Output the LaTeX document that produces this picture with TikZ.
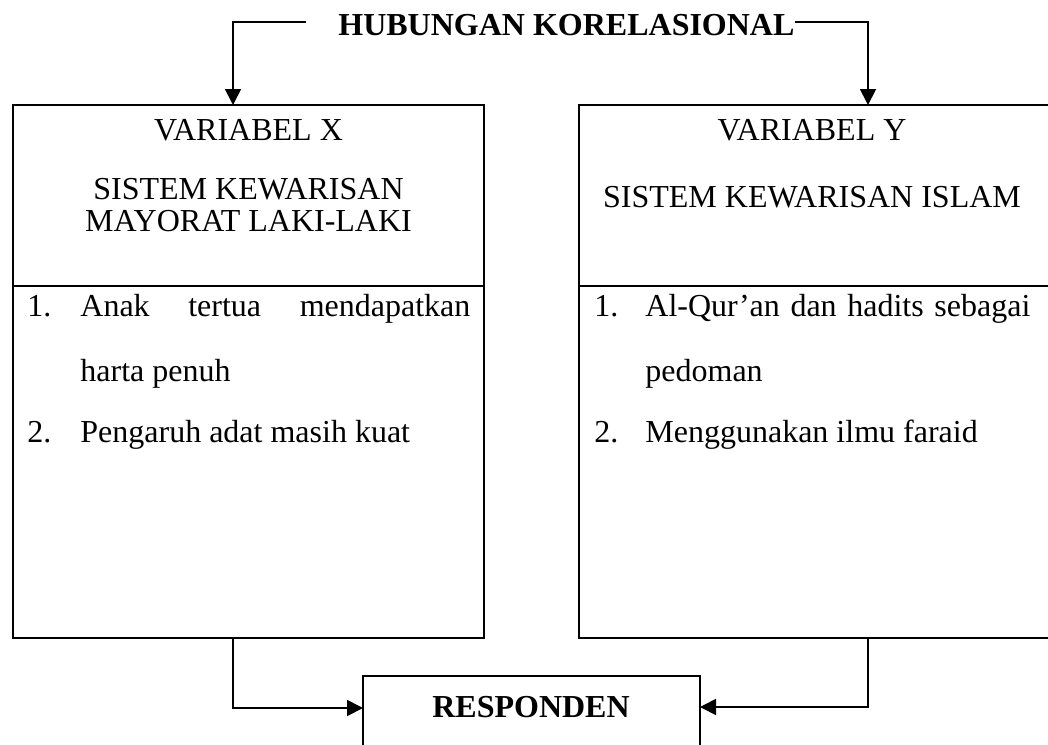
\documentclass[tikz,border=0pt]{standalone}
\usepackage{fontspec}
\setmainfont{Liberation Serif}
\usetikzlibrary{arrows.meta}
\begin{document}
\begin{tikzpicture}[x=0.5pt,y=-0.5pt,
  boxline/.style={draw,line width=1.2pt,inner sep=0pt,outer sep=0pt,anchor=north west},
  conn/.style={line width=0.9pt},
  arr/.style={conn,-{Triangle[length=8pt,width=8pt]}},
  txt/.style={inner sep=0pt,anchor=base,font=\fontsize{16}{16}\selectfont},
  txtl/.style={txt,anchor=base west},
  bold/.style={txt,font=\fontsize{16}{16}\selectfont\bfseries}]
\useasboundingbox (0,0) rectangle (1048,744);

% boxes
\node[boxline,minimum width=235.5pt,minimum height=266.5pt] (xbox) at (13,105) {};
\node[boxline,minimum width=237pt,minimum height=266.5pt] (ybox) at (579,105) {};
\node[boxline,minimum width=168.5pt,minimum height=52pt,line width=0.9pt] (resp) at (363,676) {};
\draw[line width=1.2pt] (xbox.west |- 0,286) -- (xbox.east |- 0,286);
\draw[line width=1.2pt] (ybox.west |- 0,286) -- (ybox.east |- 0,286);

% title
\node[bold,anchor=base west] (hub) at (338,35) {HUBUNGAN KORELASIONAL};
\coordinate (hl) at (306,22);
\coordinate (hr) at (795,22);
\draw[arr] (hl) -| (xbox.north -| 233,0);
\draw[arr] (hr) -| (ybox.north -| 868,0);

% left box texts
\node[txt] (vx) at (248.5,140) {VARIABEL X};
\node[txt] (sx1) at (248.5,199) {SISTEM KEWARISAN};
\node[txt] (sx2) at (248.5,231) {MAYORAT LAKI-LAKI};
\node[txtl] (nx1) at (27,316) {1.};
\node[txtl] (ix1) at (80,316) {\makebox[195pt][s]{Anak tertua mendapatkan}};
\node[txtl] (ix1b) at (80,381) {harta penuh};
\node[txtl] (nx2) at (27,442) {2.};
\node[txtl] (ix2) at (80,442) {Pengaruh adat masih kuat};

% right box texts
\node[txt] (vy) at (812,140) {VARIABEL Y};
\node[txt] (sy) at (812,207) {SISTEM KEWARISAN ISLAM};
\node[txtl] (ny1) at (594,316) {1.};
\node[txtl] (iy1) at (645,316) {\makebox[192.5pt][s]{Al-Qur’an dan hadits sebagai}};
\node[txtl] (iy1b) at (645,381) {pedoman};
\node[txtl] (ny2) at (594,442) {2.};
\node[txtl] (iy2) at (645,442) {Menggunakan ilmu faraid};

% responden
\node[bold] (rt) at (531,717) {RESPONDEN};
\draw[arr] (xbox.south -| 233,0) |- (resp.west |- 0,708);
\draw[arr] (ybox.south -| 868,0) |- (resp.east |- 0,707);
\end{tikzpicture}
\end{document}
